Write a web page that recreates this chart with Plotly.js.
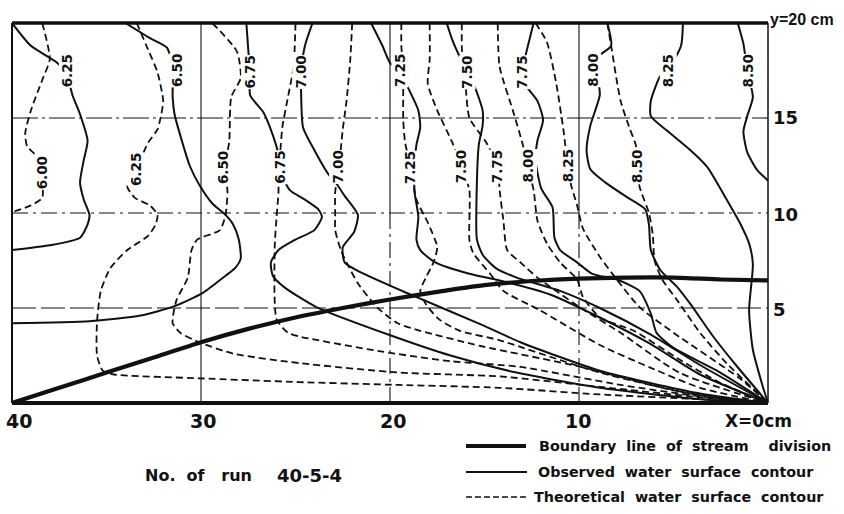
<!DOCTYPE html>
<html>
<head>
<meta charset="utf-8">
<script src="https://cdn.plot.ly/plotly-3.0.1.min.js"></script>
<style>html,body{margin:0;padding:0;background:#fff;}#chart{width:844px;height:514px;}</style>
</head>
<body>
<div id="chart"></div>
<script>
// ---------- data (x = distance in cm, y = transverse position in cm) ----------
const boundaryX = [40,37.5,35,32.5,30,27.5,25,22.5,20,17.5,15,12.5,10,7.5,5,2.5,0];
const boundaryY = [0,0.8,1.6,2.4,3.2,3.9,4.5,5.0,5.45,5.85,6.2,6.42,6.55,6.6,6.6,6.5,6.45];

const theo600X = [38.4,38.0,38.4,39.0,39.3,39.2,38.8,38.5,38.4,38.4,39.0,40.0];
const theo600Y = [20,18.1,17.0,15.4,14.2,13.5,13.1,12.5,11.7,10.8,10.4,10.05];

const obs625X = [40,39.0,37.6,37.1,36.8,36.4,36.0,36.2,36.4,36.2,35.9,36.0,36.4,38.0,40.0];
const obs625Y = [20,18.8,17.9,17.3,16.2,15.2,13.8,12.8,11.6,10.7,9.9,9.4,8.7,8.3,8.05];
const theo625X = [33.4,32.8,32.3,32.0,32.1,32.3,32.8,33.2,33.5,33.9,33.5,32.7,32.3,32.4,32.8,33.9,34.8,35.3,35.5,35.5,35.2,34.6,30.1,24.8,19.5,14.2,8.9,3.6,0];
const theo625Y = [20,18.6,17.4,15.9,15.2,14.4,13.7,12.8,12.0,11.4,10.8,10.4,9.9,9.4,8.8,8.05,7.1,5.9,4.3,2.5,1.7,1.5,1.3,1.1,0.95,0.8,0.45,0.2,0];

const obs650X = [34.0,32.7,31.8,31.5,31.5,31.4,31.1,30.6,30.1,29.4,28.7,28.3,28.0,27.9,28.2,28.7,29.9,31.4,33.2,35.9,40.0];
const obs650Y = [20,19.2,18.7,17.5,16.1,15.2,14.1,12.5,11.5,10.5,9.9,9.4,8.6,7.6,7.1,6.7,5.8,5.1,4.6,4.3,4.2];
const theo650X = [29.4,28.1,27.9,28.4,28.5,28.6,28.7,28.6,28.7,29.0,30.2,30.5,30.7,31.3,31.5,31.1,30.1,28.3,24.8,19.5,14.2,8.9,3.6,0];
const theo650Y = [20,18.5,17.1,16.1,13.8,13.2,12.3,11.1,9.9,9.1,8.6,8.05,6.6,5.4,4.2,3.7,3.2,2.6,2.1,1.6,1.4,0.85,0.3,0];

const obs675X = [27.6,27.5,27.4,27.4,26.7,26.2,25.9,25.7,25.3,24.5,23.8,23.6,24.0,25.0,25.9,26.3,26.2,25.6,23.9,19.8,16.8,13.3,8.9,3.6,0];
const obs675Y = [20,18.6,17.4,16.2,15.3,14.1,13.1,12.0,11.2,10.7,10.2,9.8,9.1,8.6,8.05,7.4,6.7,6.1,5.05,3.5,2.5,1.6,0.8,0.2,0];
const theo675X = [25.0,25.1,25.4,25.7,25.8,25.9,25.9,26.0,26.1,26.0,25.4,24.8,20.4,16.8,13.1,7.8,3.6,0];
const theo675Y = [20,17.7,16.1,14.5,13.3,12.3,11.1,9.8,8.2,4.4,3.7,3.5,2.7,2.2,1.9,0.95,0.35,0];

const obs700X = [24.1,24.5,24.7,24.7,24.6,24.0,23.3,22.8,22.4,21.7,21.9,22.5,22.4,21.6,18.9,15.1,13.1,8.9,3.6,0];
const obs700Y = [20,18.8,17.4,16.2,14.5,13.3,12.1,11.5,10.9,9.9,9.0,8.2,7.4,6.9,5.7,4.1,3.2,1.7,0.5,0];
const theo700X = [22.0,22.1,22.3,22.5,22.7,22.9,22.9,22.9,22.6,22.3,21.7,20.7,19.6,18.4,15.2,9.9,4.7,0];
const theo700Y = [20,18.1,15.9,14.4,12.4,11.1,9.8,9.1,8.05,7.4,6.3,5.05,4.2,3.8,3.0,1.9,0.6,0];

const obs725X = [21.0,20.4,20.0,19.5,19.1,18.5,18.4,18.6,18.7,18.7,18.5,18.6,18.4,17.6,15.8,14.2,11.5,8.9,6.2,3.6,0];
const obs725Y = [20,18.8,17.9,17.5,16.7,15.4,14.5,13.6,12.4,11.1,9.8,8.6,8.05,7.4,6.8,6.45,5.7,4.5,3.1,1.5,0];
const theo725X = [19.4,19.4,19.3,19.3,19.3,19.2,18.9,18.6,18.0,17.5,17.7,18.1,18.4,18.1,17.4,16.3,14.2,8.9,3.6,0];
const theo725Y = [20,18.8,17.5,16.5,14.9,13.7,12.4,10.7,9.5,8.2,7.4,6.6,5.9,5.2,4.4,3.8,3.3,1.6,0.4,0];

const obs750X = [17.0,16.7,16.3,15.9,15.5,15.1,15.1,15.3,15.4,15.4,15.1,14.4,13.3,11.0,8.9,6.2,3.6,0];
const obs750Y = [20,19.1,18.2,17.4,16.6,15.4,14.6,13.6,11.7,8.6,7.8,7.1,6.6,5.9,5.0,3.6,2.0,0];
const theo750X = [17.9,17.9,18.0,17.5,16.7,16.2,15.8,15.8,15.6,14.7,14.0,12.1,8.9,6.2,3.6,0];
const theo750Y = [20,18.1,16.8,15.4,13.7,12.4,11.2,8.6,7.9,6.8,5.9,4.9,3.05,1.85,0.8,0];

const obs775X = [12.4,12.8,13.0,12.8,12.2,11.9,12.2,12.3,12.0,11.4,11.3,11.0,10.1,9.3,8.0,6.8,6.2,5.9,5.0,2.7,0];
const obs775Y = [20,18.4,17.4,16.7,15.9,14.9,13.8,12.8,11.3,10.3,8.7,8.05,7.4,6.8,6.5,5.9,4.7,3.7,2.9,1.7,0];
const theo775X = [16.2,16.2,16.1,16.0,15.8,14.9,14.3,14.2,14.0,13.8,13.1,12.2,11.5,9.9,7.8,4.7,0];
const theo775Y = [20,18.7,17.5,16.7,15.0,13.7,12.4,11.2,9.6,8.05,7.4,6.6,6.1,5.0,3.7,1.6,0];

const obs800X = [8.5,8.3,8.9,9.3,9.0,8.9,9.4,9.6,9.4,8.6,7.4,6.5,6.3,6.2,5.7,4.8,4.1,2.9,1.7,0];
const obs800Y = [20,18.8,18.3,17.6,17.0,16.2,14.6,13.3,12.3,11.6,10.8,10.2,9.4,8.05,7.0,6.1,5.2,3.5,2.0,0];
const theo800X = [14.3,14.2,13.5,13.0,12.7,12.4,12.2,11.7,11.0,10.1,9.8,8.9,7.1,4.7,2.5,0];
const theo800Y = [20,17.7,15.4,13.7,12.4,11.2,9.6,8.4,7.4,6.5,5.6,4.5,3.8,2.3,1.05,0];

const obs825X = [4.5,4.6,5.3,5.7,6.2,6.2,5.3,4.1,3.2,2.3,1.5,1.0,0.8,1.0,0.8,0.3,0];
const obs825Y = [20,18.8,17.5,17.2,15.9,15.1,14.3,13.3,12.4,10.9,9.5,8.4,7.3,4.9,2.8,0.95,0];
const theo825X = [12.3,11.7,11.2,10.8,10.6,10.4,10.1,9.8,8.9,8.0,6.8,5.0,1.5,0];
const theo825Y = [20,19.0,16.8,14.2,12.5,11.4,10.4,9.2,7.7,6.5,5.05,3.7,1.3,0];

const obs850X = [1.6,1.3,1.1,0.8,1.1,1.3,1.1,0.6,0];
const obs850Y = [20,18.9,17.5,16.1,15.1,14.3,13.2,12.3,11.7];
const theo850X = [8.5,8.3,7.8,7.3,7.0,6.9,6.8,6.3,6.1,6.0,5.6,4.8,3.6,2.2,0];
const theo850Y = [20,18.8,15.9,14.4,13.6,12.6,11.4,10.0,8.9,7.5,6.5,5.4,3.7,2.1,0];

const obsLabelText = ['6.25','6.50','6.75','7.00','7.25','7.50','7.75','8.00','8.25','8.50'];
const obsLabelX = [37.1,31.3,27.4,24.7,19.5,15.9,13.0,9.3,5.3,1.06];
const obsLabelY = [17.5,17.5,17.4,17.4,17.5,17.4,17.4,17.5,17.5,17.5];
const theoLabelText = ['6.00','6.25','6.50','6.75','7.00','7.25','7.50','7.75','8.00','8.25','8.50'];
const theoLabelX = [38.4,33.4,28.8,25.8,22.75,18.9,16.2,14.3,12.7,10.6,6.9];
const theoLabelY = [12.1,12.3,12.4,12.4,12.4,12.4,12.45,12.45,12.5,12.5,12.45];

// tick label positions in axis units (x: cm, y: cm)
const xTickVals = [39.63,29.9,19.84,10.05];
const xTickText = ['40','30','20','10'];
const yTickVals = [15.05,9.9,4.9];
const yTickText = ['15','10','5'];
const gridX = [30,20,10];
const X_MAX = 40, Y_MAX = 20;

// ---------- build ----------
const FONT = 'DejaVu Sans, sans-serif';
const INK = '#111';
const traces = [];
function curve(xs, ys, dashed) {
  traces.push({type:'scatter', mode:'lines', x:xs, y:ys, hoverinfo:'skip', showlegend:false,
    line:{color:INK, width: dashed ? 1.8 : 2.0, dash: dashed ? '7px,4px' : 'solid', shape:'spline', smoothing:0.6}});
}
curve(theo600X, theo600Y, true);
curve(obs625X, obs625Y, false); curve(theo625X, theo625Y, true);
curve(obs650X, obs650Y, false); curve(theo650X, theo650Y, true);
curve(obs675X, obs675Y, false); curve(theo675X, theo675Y, true);
curve(obs700X, obs700Y, false); curve(theo700X, theo700Y, true);
curve(obs725X, obs725Y, false); curve(theo725X, theo725Y, true);
curve(obs750X, obs750Y, false); curve(theo750X, theo750Y, true);
curve(obs775X, obs775Y, false); curve(theo775X, theo775Y, true);
curve(obs800X, obs800Y, false); curve(theo800X, theo800Y, true);
curve(obs825X, obs825Y, false); curve(theo825X, theo825Y, true);
curve(obs850X, obs850Y, false); curve(theo850X, theo850Y, true);
traces.push({type:'scatter', mode:'lines', x:boundaryX, y:boundaryY, hoverinfo:'skip', showlegend:false,
  line:{color:INK, width:4.2, shape:'spline', smoothing:0.6}});

const annotations = [];
function lab(t, x, y) {
  annotations.push({text:t, x:x, y:y, xref:'x', yref:'y', showarrow:false, textangle:-90,
    font:{family:FONT, size:13.5, color:INK, weight:'bold'}, bgcolor:'#fff', borderpad:0});
}
obsLabelText.forEach((t,i)=>lab(t, obsLabelX[i], obsLabelY[i]));
theoLabelText.forEach((t,i)=>lab(t, theoLabelX[i], theoLabelY[i]));

const px = v => (X_MAX - v) / X_MAX;   // cm -> paper x (reversed axis)
const py = v => v / Y_MAX;             // cm -> paper y
xTickText.forEach((t,i)=>annotations.push({text:t, x:px(xTickVals[i]), y:-0.047, xref:'paper', yref:'paper',
  xanchor:'center', yanchor:'middle', showarrow:false,
  font:{family:FONT, size:19, color:INK, weight:'bold'}}));
annotations.push({text:'X=0cm', x:0.9405, y:-0.047, xref:'paper', yref:'paper', xanchor:'left', yanchor:'middle', showarrow:false,
  font:{family:FONT, size:17, color:INK, weight:'bold'}});
yTickText.forEach((t,i)=>annotations.push({text:t, x:1.004, y:py(yTickVals[i]), xref:'paper', yref:'paper',
  xanchor:'left', yanchor:'middle', showarrow:false,
  font:{family:FONT, size:18, color:INK, weight:'bold'}}));
annotations.push({text:'y=20 cm', x:1.0, y:1.008, xref:'paper', yref:'paper', xanchor:'left', yanchor:'middle', showarrow:false,
  font:{family:'Liberation Sans, Arial, sans-serif', size:16, color:INK, weight:'bold'}});

const NB = '\u00A0';
const legTexts = ['Boundary'+NB+' line'+NB+' of'+NB+' stream'+NB+NB+NB+' division',
                  'Observed'+NB+' water'+NB+' surface'+NB+' contour',
                  'Theoretical'+NB+' water'+NB+' surface'+NB+' contour'];
const legY = [-0.1132,-0.1816,-0.2474];
const legTX = [0.6944,0.6931,0.6878];
legTexts.forEach((t,i)=>annotations.push({text:t, x:legTX[i], y:legY[i], xref:'paper', yref:'paper',
  xanchor:'left', yanchor:'middle', showarrow:false,
  font:{family:FONT, size:14.3, color:INK, weight:'bold'}}));
annotations.push({text:'No.'+NB+' of'+NB+NB+' run', x:0.1733, y:-0.1895, xref:'paper', yref:'paper', xanchor:'left', yanchor:'middle', showarrow:false,
  font:{family:FONT, size:16, color:INK, weight:'bold'}});
annotations.push({text:'40-5-4', x:0.3479, y:-0.1895, xref:'paper', yref:'paper', xanchor:'left', yanchor:'middle', showarrow:false,
  font:{family:FONT, size:18, color:INK, weight:'bold'}});

const shapes = [];
// grid
shapes.push({type:'line', xref:'x', yref:'y', x0:40, x1:0, y0:15, y1:15, layer:'below', line:{color:INK, width:1.1, dash:'26px,4px,3px,4px'}});
shapes.push({type:'line', xref:'x', yref:'y', x0:40, x1:0, y0:10, y1:10, layer:'below', line:{color:INK, width:1.1, dash:'16px,5px,3px,5px'}});
shapes.push({type:'line', xref:'x', yref:'y', x0:40, x1:0, y0:5, y1:5, layer:'below', line:{color:INK, width:1.1, dash:'24px,5px'}});
gridX.forEach((gx,i)=>{
  shapes.push({type:'line', xref:'x', yref:'y', x0:gx, x1:gx, y0:10, y1:20, layer:'below', line:{color:INK, width:1.1}});
  shapes.push({type:'line', xref:'x', yref:'y', x0:gx, x1:gx, y0:0, y1:10, layer:'below', line:{color:INK, width:1.1, dash: i===0 ? 'solid' : '16px,5px,3px,5px'}});
});
// frame
shapes.push({type:'line', xref:'paper', yref:'paper', x0:0, x1:1, y0:1, y1:1, line:{color:INK, width:3.5}});
shapes.push({type:'line', xref:'paper', yref:'paper', x0:0, x1:1, y0:0, y1:0, line:{color:INK, width:4}});
shapes.push({type:'line', xref:'paper', yref:'paper', x0:0, x1:0, y0:0, y1:1, line:{color:INK, width:2}});
shapes.push({type:'line', xref:'paper', yref:'paper', x0:1, x1:1, y0:0, y1:1, line:{color:INK, width:1.5}});
// legend samples
shapes.push({type:'line', xref:'paper', yref:'paper', x0:0.6005, x1:0.6799, y0:legY[0], y1:legY[0], line:{color:INK, width:4}});
shapes.push({type:'line', xref:'paper', yref:'paper', x0:0.6005, x1:0.6812, y0:legY[1], y1:legY[1], line:{color:INK, width:2}});
shapes.push({type:'line', xref:'paper', yref:'paper', x0:0.6005, x1:0.6812, y0:legY[2], y1:legY[2], line:{color:INK, width:1.6, dash:'6px,3px'}});

const layout = {
  width:844, height:514,
  margin:{l:12, r:76, t:23, b:111, pad:0},
  paper_bgcolor:'#fff', plot_bgcolor:'#fff',
  showlegend:false,
  xaxis:{range:[40,0], showgrid:false, zeroline:false, showticklabels:false, showline:false, ticks:'', fixedrange:true},
  yaxis:{range:[0,20], showgrid:false, zeroline:false, showticklabels:false, showline:false, ticks:'', fixedrange:true},
  shapes:shapes, annotations:annotations,
  font:{family:FONT, color:INK}
};
Plotly.newPlot('chart', traces, layout, {staticPlot:true, displayModeBar:false});
</script>
</body>
</html>
